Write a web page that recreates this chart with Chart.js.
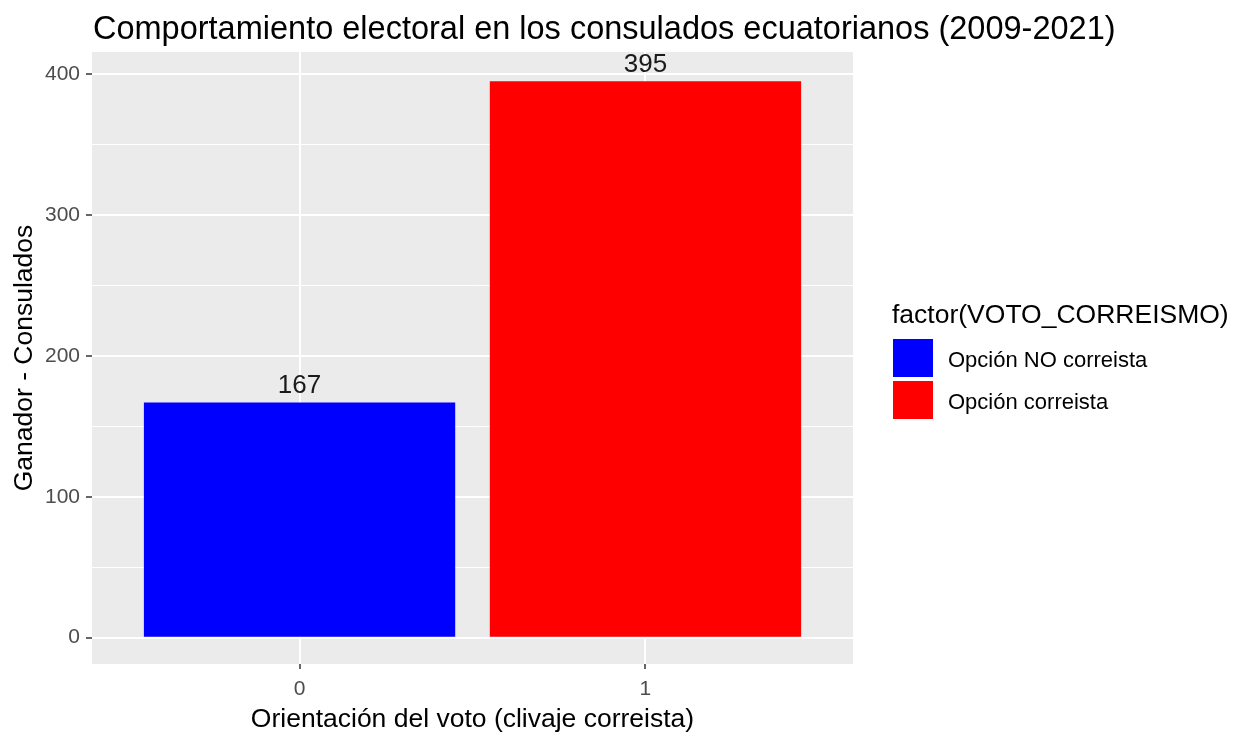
<!DOCTYPE html>
<html>
<head>
<meta charset="utf-8">
<script src="https://cdn.jsdelivr.net/npm/chart.js@4"></script>
<style>
    html, body { margin: 0; padding: 0; background: #fff; }
    #wrap { width: 1242px; height: 736px; }
</style>
</head>
<body>
<div id="wrap"><canvas id="chart"></canvas></div>
<script>
const titleText = 'Comportamiento electoral en los consulados ecuatorianos (2009-2021)';
const xTitle = 'Orientación del voto (clivaje correista)';
const yTitle = 'Ganador - Consulados';
const legendTitle = 'factor(VOTO_CORREISMO)';

const categories = [0, 1];
const seriesLabels = ['Opción NO correista', 'Opción correista'];
const values = [167, 395];
const colors = ['#0000FF', '#FF0000'];

const FONT = '"Liberation Sans", Arial, sans-serif';

// fondo gris del panel, como ggplot
const panelBg = {
    id: 'panelBg',
    beforeDraw(chart) {
        const { ctx, chartArea: a } = chart;
        ctx.save();
        ctx.fillStyle = '#EBEBEB';
        ctx.fillRect(a.left, a.top, a.right - a.left, a.bottom - a.top);
        ctx.restore();
    }
};

// titulo, etiquetas de valor y leyenda
const extras = {
    id: 'extras',
    afterDraw(chart) {
        const { ctx, chartArea: a } = chart;
        ctx.save();
        ctx.fillStyle = '#000';
        ctx.textAlign = 'left';
        ctx.textBaseline = 'alphabetic';
        ctx.font = '32.5px ' + FONT;
        ctx.fillText(titleText, a.left + 1, 39);

        // valores encima de las barras
        ctx.textAlign = 'center';
        ctx.font = '26px ' + FONT;
        chart.data.datasets.forEach((ds, i) => {
            chart.getDatasetMeta(i).data.forEach((el, j) => {
                ctx.fillStyle = '#1a1a1a';
                ctx.fillText(String(ds.data[j].y), el.x, el.y - 9);
            });
        });

        // leyenda
        const lx = a.right + 40;
        ctx.textAlign = 'left';
        ctx.fillStyle = '#000';
        ctx.font = '26.5px ' + FONT;
        ctx.fillText(legendTitle, lx - 1, 323);
        ctx.font = '22px ' + FONT;
        chart.data.datasets.forEach((ds, i) => {
            const top = 339 + i * 42;
            ctx.fillStyle = ds.backgroundColor;
            ctx.fillRect(lx, top, 40, 38);
            ctx.fillStyle = '#000';
            ctx.fillText(ds.label, lx + 55, top + 28);
        });
        ctx.restore();
    }
};

const chart = new Chart(document.getElementById('chart').getContext('2d'), {
    type: 'bar',
    data: {
        datasets: seriesLabels.map((label, i) => ({
            label: label,
            data: [{ x: categories[i], y: values[i] }],
            backgroundColor: colors[i],
            borderWidth: 0,
            barPercentage: 0.9,
            categoryPercentage: 1
        }))
    },
    options: {
        responsive: true,
        maintainAspectRatio: false,
        animation: false,
        layout: { padding: { top: 52, right: 389, bottom: 0, left: 0 } },
        plugins: {
            legend: { display: false },
            title: { display: false },
            tooltip: { enabled: false }
        },
        scales: {
            x: {
                type: 'linear',
                stacked: true,
                offset: false,
                min: -0.6,
                max: 1.6,
                afterFit(scale) { scale.height = 72; },
                border: { display: false },
                grid: {
                    offset: false,
                    color: '#FFFFFF',
                    lineWidth: 2,
                    drawTicks: true,
                    tickLength: 5,
                    tickColor: '#333333',
                    tickWidth: 1.5
                },
                ticks: {
                    stepSize: 1,
                    includeBounds: false,
                    color: '#4D4D4D',
                    font: { family: FONT, size: 21 },
                    padding: 8
                },
                title: {
                    display: true,
                    text: xTitle,
                    color: '#000',
                    font: { family: FONT, size: 26.5 },
                    padding: { top: 0, bottom: 0 }
                }
            },
            y: {
                min: -18.7,
                max: 415.8,
                afterFit(scale) { scale.width = 92; },
                border: { display: false },
                grid: {
                    color: '#FFFFFF',
                    lineWidth: c => (c.tick && c.tick.value % 100 === 0 ? 2 : 1),
                    drawTicks: true,
                    tickLength: 6,
                    tickColor: c => (c.tick && c.tick.value % 100 === 0 ? '#333333' : 'rgba(0,0,0,0)'),
                    tickWidth: 1.5
                },
                ticks: {
                    stepSize: 50,
                    includeBounds: false,
                    autoSkip: false,
                    color: '#4D4D4D',
                    font: { family: FONT, size: 21 },
                    padding: 6,
                    callback: v => (v % 100 === 0 ? v : '')
                },
                title: {
                    display: true,
                    text: yTitle,
                    color: '#000',
                    font: { family: FONT, size: 26.5 },
                    padding: { top: 9, bottom: 0 }
                }
            }
        }
    },
    plugins: [panelBg, extras]
});
</script>
</body>
</html>
